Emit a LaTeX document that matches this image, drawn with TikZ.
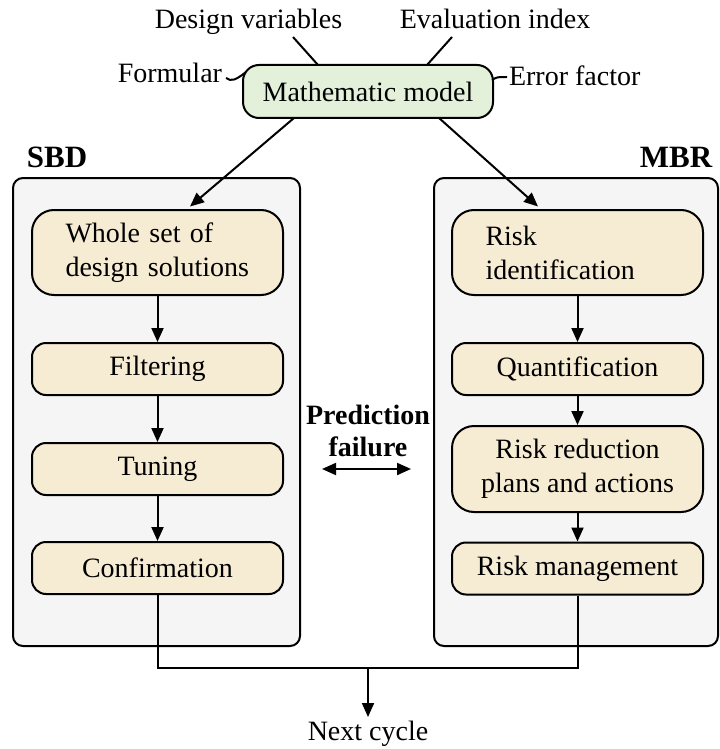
\documentclass[tikz,border=0pt]{standalone}
\usepackage{fontspec}
\setmainfont{LiberationSerif}[Extension=.ttf, UprightFont=*-Regular, BoldFont=*-Bold]
\usetikzlibrary{arrows.meta}
\definecolor{boxfill}{HTML}{F6EBD3}
\definecolor{modelfill}{HTML}{E3F0DA}
\definecolor{contfill}{HTML}{F5F5F5}
\begin{document}
\begin{tikzpicture}[x=0.5pt,y=-0.5pt,
  font=\fontsize{14}{17}\selectfont, line width=1pt,
  stepbox/.style={draw, fill=boxfill, rounded corners=7pt, minimum width=125.5pt,
    minimum height=26pt, inner sep=0pt, align=center},
  tallbox/.style={stepbox, rounded corners=11pt, minimum height=42.5pt},
  leftbox/.style={tallbox, align=left, text width=92pt, inner xsep=16.75pt},
  container/.style={draw, fill=contfill, rounded corners=5pt, inner sep=0pt},
  modelbox/.style={draw, fill=modelfill, rounded corners=8pt, minimum width=125pt,
    minimum height=26.5pt, inner sep=0pt},
  plain/.style={inner sep=0pt},
  headlabel/.style={inner sep=0pt, font=\fontsize{15.5}{18}\selectfont\bfseries},
  arr/.style={-{Triangle[length=7pt,width=6pt]}},
  darr/.style={{Triangle[length=7pt,width=6pt]}-{Triangle[length=7pt,width=6pt]}}]
\useasboundingbox (0,0) rectangle (719,749);

% containers
\node[container, minimum width=143.5pt, minimum height=234pt] (sbdbox) at (156.5,412) {};
\node[container, minimum width=142pt, minimum height=234pt] (mbrbox) at (576,412) {};
\node[headlabel] (sbd) at (57,157) {SBD};
\node[headlabel] (mbr) at (676,157) {MBR};

% model and its labels
\node[modelbox] (model) at (368,91.5) {Mathematic model};
\node[plain, anchor=base] (dv) at (248.5,29) {Design variables};
\node[plain, anchor=base] (ei) at (495,29) {Evaluation index};
\node[plain, anchor=base east] (form) at (223,83) {Formular};
\node[plain, anchor=base west] (err) at (508,86) {Error factor};

\coordinate (dvtail) at (293,37);
\coordinate (dvhead) at (318,65);
\coordinate (eitail) at (452,37);
\coordinate (eihead) at (427,65);
\coordinate (formtail) at (226,78);
\coordinate (formhead) at (246,72);
\coordinate (errtail) at (492,80);
\coordinate (errhead) at (507,77);
\draw (dvtail) -- (dvhead);
\draw (eitail) -- (eihead);
\draw (formtail) .. controls (231,82) and (236,80) .. (formhead);
\draw (errtail) .. controls (497,77) .. (errhead);

% SBD column
\node[leftbox] (whole) at (157.5,252.5) {Whole set of\\design solutions};
\node[stepbox] (filt) at (157.5,369) {Filtering};
\node[stepbox] (tun) at (157.5,469) {Tuning};
\node[stepbox] (conf) at (157.5,568) {Confirmation};

% MBR column
\node[leftbox] (riskid) at (577.5,252.5) {Risk\\identification};
\node[stepbox] (quant) at (577.5,369) {Quantification};
\node[tallbox, minimum height=43pt] (riskred) at (577.5,469) {Risk reduction\\plans and actions};
\node[stepbox] (riskman) at (577.5,568.5) {Risk management};

% model to columns
\coordinate (mleft) at (294,118);
\coordinate (mright) at (439,118);
\draw[arr] (mleft) -- (190,206.5);
\draw[arr] (mright) -- (538,206.5);

% column arrows
\draw[arr] (whole) -- (filt);
\draw[arr] (filt) -- (tun);
\draw[arr] (tun) -- (conf);
\draw[arr] (riskid) -- (quant);
\draw[arr] (quant) -- (riskred);
\draw[arr] (riskred) -- (riskman);

% prediction failure
\node[plain, font=\fontsize{14}{17}\selectfont\bfseries] (pred) at (368,415) {Prediction};
\node[plain, font=\fontsize{14}{17}\selectfont\bfseries] (fail) at (368,447) {failure};
\coordinate (pfl) at (322,469);
\coordinate (pfr) at (411,469);
\draw[darr] (pfl) -- (pfr);

% next cycle
\coordinate (join) at (368,668);
\node[plain] (next) at (368,734) {Next cycle};
\draw (conf.south) |- (join) -| (riskman.south);
\draw[arr] (join) -- (368,717);
\end{tikzpicture}
\end{document}
